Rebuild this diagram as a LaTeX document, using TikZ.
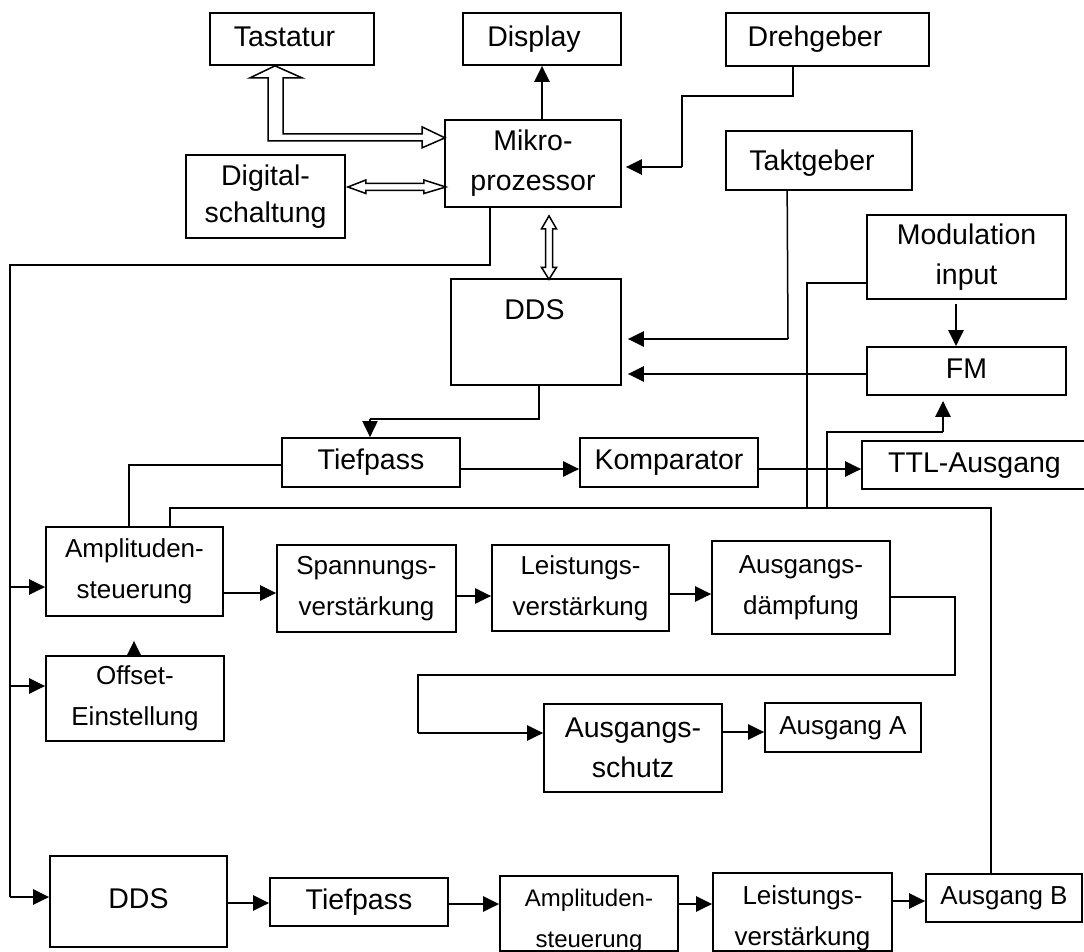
\documentclass[tikz,border=0pt]{standalone}
\usepackage{fontspec}
\setmainfont{Liberation Sans}
\usetikzlibrary{arrows.meta,calc}
\newcommand\fsA{\fontsize{28.5}{40}\selectfont}
\newcommand\fsB{\fontsize{26}{41}\selectfont}
\newcommand\fsC{\fontsize{24}{41}\selectfont}
\begin{document}
\begin{tikzpicture}[x=1pt,y=-1pt,
 box/.style={draw,line width=1.7pt,inner sep=0pt,align=center},
 sz/.style 2 args={minimum width=#1pt,minimum height=#2pt},
 fA/.style={font=\fsA},
 fB/.style={font=\fsB},
 fC/.style={font=\fsC},
 oneA/.style={font=\fsA,text height=20.5pt,text depth=6pt},
 oneB/.style={font=\fsB,text height=18.7pt,text depth=5.5pt},
 txt/.style={inner sep=0pt,align=center},
 thinl/.style={line width=1.5pt},
 midl/.style={line width=1.9pt},
 thickl/.style={line width=2.5pt},
 arr/.style={-{Triangle[length=16pt,width=15pt]}},
 hollow/.style={draw,line width=1.5pt,fill=white,line join=miter},
]
\fill[white] (0,0) rectangle (1084,952);
\useasboundingbox (0,0) rectangle (1084,952);

% ---------- blocks ----------
\node[box,sz={164}{52}] (tast) at (292,39) {};
\node[txt,oneA] (tastT) at (284.5,39) {Tastatur};
\node[box,sz={158}{52}] (disp) at (542,39) {};
\node[txt,oneA] (dispT) at (534,39) {Display};
\node[box,sz={203}{53}] (dreh) at (827.5,39.5) {};
\node[txt,oneA] (drehT) at (815,39.5) {Drehgeber};
\node[box,fA,sz={176}{87}] (mikro) at (533,163.5) {Mikro-\\prozessor};
\node[box,fA,sz={159}{83}] (dig) at (265.5,196.5) {Digital-\\[-3pt]schaltung};
\node[box,sz={186}{59}] (takt) at (819,160.5) {};
\node[txt,oneA] (taktT) at (812,163) {Taktgeber};
\node[box,fA,sz={199}{84}] (mod) at (966.5,257) {Modulation\\input};
\node[box,sz={170}{106}] (dds1) at (536,332) {};
\node[txt,oneA] (dds1T) at (534.5,312.5) {DDS};
\node[box,oneA,sz={199}{48}] (fm) at (966.5,371) {FM};
\node[box,oneA,sz={178}{49}] (tp1) at (371,462.5) {Tiefpass};
\node[box,oneA,sz={178}{49}] (komp) at (669,462.5) {Komparator};
\node[box,oneA,sz={225}{48}] (ttl) at (974.5,465) {TTL-Ausgang};
\node[box,fB,sz={177}{89}] (amp1) at (134.5,571.5) {Amplituden-\\steuerung};
\node[box,fB,sz={179}{87}] (span) at (366.5,588.5) {Spannungs-\\verstärkung};
\node[box,fB,sz={177}{86}] (leist1) at (580.5,588) {Leistungs-\\verstärkung};
\node[box,fB,sz={178}{93}] (daempf) at (801,587.5) {Ausgangs-\\dämpfung};
\node[box,fB,sz={178}{85}] (offset) at (135,698.5) {Offset-\\Einstellung};
\node[box,fA,sz={178}{88}] (schutz) at (633,748) {Ausgangs-\\schutz};
\node[box,oneB,sz={156}{49}] (ausA) at (843,727.5) {Ausgang A};
\node[box,oneA,sz={177}{91}] (dds2) at (138.5,901.5) {DDS};
\node[box,oneA,sz={178}{48}] (tp2) at (359,902) {Tiefpass};
\node[box,sz={178}{75}] (amp2) at (589,913.5) {};
\node[txt,fC] (amp2T) at (589,921) {Amplituden-\\steuerung};
\node[box,sz={179}{78}] (leist2) at (802.5,912) {};
\node[txt,fB] (leist2T) at (802.5,918) {Leistungs-\\verstärkung};
\node[box,oneB,sz={156}{48}] (ausB) at (1004,898) {Ausgang B};

% ---------- hollow bus arrows ----------
\draw[hollow] ($(tast.south)+(-17,0)$) -- ++(27,12) -- ++(-19,0) -- ++(0,56) -- ++(139,0) -- ++(0,-7) -- ++(23,11) -- ++(-23,10) -- ++(0,-7) -- ++(-154,0) -- ++(0,-63) -- ++(-18,0) -- cycle;
\draw[hollow] ($(dig.east)+(2,-9.5)$) -- ++(18,-7) -- ++(0,3.3) -- ++(58,0) -- ++(0,-3.3) -- ++(22,7) -- ++(-22,6.5) -- ++(0,-3) -- ++(-58,0) -- ++(0,3) -- cycle;
\draw[hollow] ($(mikro.south)+(16,8)$) -- ++(7.5,13) -- ++(-4,0) -- ++(0,38.5) -- ++(4,0) -- ++(-7.5,12) -- ++(-7.5,-12) -- ++(4,0) -- ++(0,-38.5) -- ++(-4,0) -- cycle;

% ---------- connectors ----------
\draw[thickl,arr] (disp.south |- mikro.north) -- (disp.south);

\coordinate (dr1) at ($(dreh.south west)+(68,0)$);
\coordinate (dr2) at (682,167);
\draw[thinl] (dr1) -- ++(0,29) -| (dr2);
\draw[thickl,arr,shorten >=4pt] (dr2) -- (mikro.east |- dr2);

\coordinate (tk1) at ($(takt.south west)+(62,0)$);
\coordinate (tk2) at (788,339);
\draw[thinl] (tk1) -- (tk2);
\draw[thickl,arr,shorten >=6pt] (tk2) -- (dds1.east |- tk2);

\coordinate (fm1) at ($(fm.west)+(0,3)$);
\draw[thickl,arr,shorten >=6pt] (fm1) -- (dds1.east |- fm1);

\coordinate (md1) at ($(mod.south)+(-10.5,0)$);
\draw[thickl,arr,shorten <=4pt] (md1) -- (md1 |- fm.north);

\coordinate (md2) at ($(mod.west)+(0,26)$);
\draw[thinl] (md2) -| (807,508);

\coordinate (h1) at ($(amp1.north west)+(125,0)$);
\coordinate (h2) at ($(ausB.north west)+(66,0)$);
\coordinate (hy) at (0,508);
\draw[midl] (h1) -- (h1 |- hy) -- (h2 |- hy) -- (h2);

\coordinate (fb1) at (827,508);
\coordinate (fb2) at (943,432);
\draw[thinl] (fb1) |- (fb2);
\draw[thickl,arr,shorten >=5pt] (fb2) -- (fb2 |- fm.south);

\coordinate (ds1) at ($(dds1.south west)+(89,0)$);
\coordinate (ds2) at (370,419);
\draw[thinl] (ds1) |- (ds2);
\draw[midl,arr] (ds2) -- (ds2 |- tp1.north);

\coordinate (tq1) at ($(tp1.west)+(0,2.5)$);
\coordinate (tq2) at ($(amp1.north west)+(84,0)$);
\draw[midl] (tq1) -| (tq2);

\draw[thickl,arr] ($(tp1.east)+(0,6.5)$) -- ($(komp.west)+(0,6.5)$);
\draw[thickl,arr] ($(komp.east)+(0,6.5)$) -- ($(ttl.west)+(0,4)$);
\draw[thickl,arr] ($(amp1.east)+(0,21.5)$) -- ($(span.west)+(0,4.5)$);
\draw[thickl,arr] ($(span.east)+(0,7.5)$) -- ($(leist1.west)+(0,8)$);
\draw[thickl,arr] ($(leist1.east)+(0,6)$) -- ($(daempf.west)+(0,6.5)$);

\coordinate (dp1) at ($(daempf.east)+(0,9.5)$);
\coordinate (dp2) at (418,733);
\draw[thinl] (dp1) -- (955,597) -- (955,675) -- (418,675) -- (dp2);
\draw[thickl,arr] (dp2) -- (schutz.west |- dp2);

\draw[thickl,arr] ($(schutz.east)+(0,-16)$) -- ($(ausA.west)+(0,4.5)$);
\draw[thickl,arr,shorten >=24pt] ($(offset.north)+(-1,0)$) -- ($(amp1.south)+(-0.5,0)$);

\coordinate (bs1) at ($(mikro.south west)+(46,0)$);
\coordinate (bs2) at (10,265);
\coordinate (bA) at (10,587);
\coordinate (bO) at (10,686);
\coordinate (bD) at (10,897);
\draw[midl] (bs1) |- (bs2) -- (bD);
\draw[thickl,arr] (bA) -- (amp1.west |- bA);
\draw[thickl,arr] (bO) -- (offset.west |- bO);
\draw[thickl,arr] (bD) -- (dds2.west |- bD);

\draw[thickl,arr] ($(dds2.east)+(0,1.5)$) -- ($(tp2.west)+(0,1)$);
\draw[thickl,arr] ($(tp2.east)+(0,2)$) -- ($(amp2.west)+(0,-9.5)$);
\draw[thickl,arr] ($(amp2.east)+(0,-9.5)$) -- ($(leist2.west)+(0,-8)$);
\draw[thickl,arr] ($(leist2.east)+(0,-11)$) -- ($(ausB.west)+(0,3)$);
\end{tikzpicture}
\end{document}
